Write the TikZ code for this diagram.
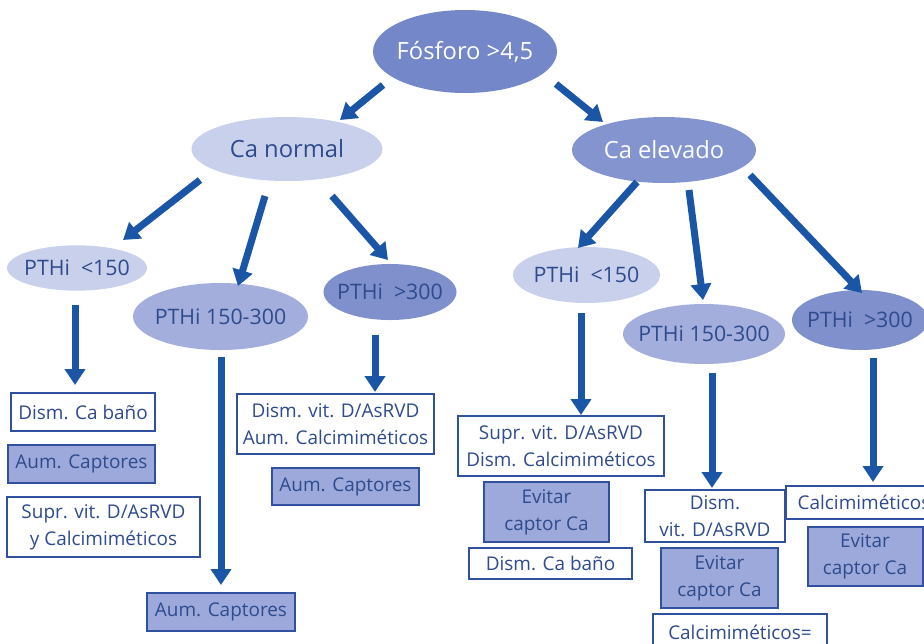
\documentclass[tikz,border=0pt]{standalone}
\usepackage{fontspec}
\setmainfont{Open Sans}
\usetikzlibrary{shapes.geometric,arrows.meta}
\definecolor{arrowblue}{HTML}{1B56A6}
\definecolor{ellF}{HTML}{7487C8}
\definecolor{ellLight}{HTML}{C9D0EB}
\definecolor{ellCe}{HTML}{8394CF}
\definecolor{ellMid}{HTML}{A3AEDC}
\definecolor{ellDark}{HTML}{7F90CC}
\definecolor{textblue}{HTML}{2E4B8E}
\definecolor{boxfill}{HTML}{9CA9DA}
\definecolor{boxline}{HTML}{2F51A0}
\tikzset{
  ell/.style={ellipse, inner xsep=-12pt, inner ysep=0pt, text=textblue},
  bigtxt/.style={font=\fontsize{17.8}{20}\selectfont},
  pthtxt/.style={font=\fontsize{16}{19}\selectfont},
  whitebox/.style={rectangle, draw=boxline, line width=1.5pt, fill=white, inner sep=0pt,
     text=textblue, align=center, font=\fontsize{14.2}{20}\selectfont},
  shadebox/.style={whitebox, fill=boxfill},
  arr/.style={draw=arrowblue, line width=5.25pt, -{Triangle[width=15pt,length=12pt]}}
}
\begin{document}
\begin{tikzpicture}[x=0.75pt,y=-0.75pt]
\useasboundingbox (0,0) rectangle (924,643);
\fill[white] (0,0) rectangle (924,643);
\clip (0,0) rectangle (924,643);
% ellipses
\node[ell, bigtxt, fill=ellF, text=white, minimum width=138pt, minimum height=62.25pt] (F) at (465,51.5) {Fósforo >4,5};
\node[ell, bigtxt, fill=ellLight, minimum width=143.25pt, minimum height=48pt] (Cn) at (287,149) {Ca normal};
\node[ell, bigtxt, fill=ellCe, text=white, minimum width=138pt, minimum height=49.5pt] (Ce) at (664,150) {Ca elevado};
\node[ell, pthtxt, fill=ellLight, minimum width=105pt, minimum height=34pt] (L1) at (77,268) {PTHi \ <150};
\node[ell, pthtxt, fill=ellMid, minimum width=131.25pt, minimum height=50.25pt] (L2) at (220.5,316.5) {PTHi 150-300};
\node[ell, pthtxt, fill=ellDark, minimum width=99.75pt, minimum height=42pt] (L3) at (390,292) {PTHi \ >300};
\node[ell, pthtxt, fill=ellLight, minimum width=110.25pt, minimum height=42pt] (R1) at (586.5,275) {PTHi \ <150};
\node[ell, pthtxt, fill=ellMid, minimum width=121.5pt, minimum height=45pt] (R2) at (704,334) {PTHi 150-300};
\node[ell, pthtxt, fill=ellDark, minimum width=102pt, minimum height=45pt] (R3) at (860,320) {PTHi \ >300};
% boxes left
\node[whitebox, minimum width=108pt, minimum height=28.5pt] (b1) at (83,412) {Dism. Ca baño};
\node[shadebox, minimum width=110.25pt, minimum height=28.5pt] (b2) at (81.5,464) {Aum. Captores};
\node[whitebox, minimum width=144.75pt, minimum height=45pt] (b3) at (103.5,527) {Supr. vit. D/AsRVD\\y Calcimiméticos};
\node[shadebox, minimum width=111pt, minimum height=28.5pt] (b4) at (221,612) {Aum. Captores};
\node[whitebox, minimum width=147.75pt, minimum height=45pt] (b5) at (335.5,424) {Dism. vit. D/AsRVD\\Aum. Calcimiméticos};
\node[shadebox, minimum width=110.25pt, minimum height=27.75pt] (b6) at (345.5,486.5) {Aum. Captores};
% boxes right
\node[whitebox, minimum width=154.5pt, minimum height=45pt] (b7) at (561,446) {Supr. vit. D/AsRVD\\Dism. Calcimiméticos};
\node[shadebox, minimum width=93.75pt, minimum height=45pt] (b8) at (546.5,512) {Evitar\\captor Ca};
\node[whitebox, minimum width=122.25pt, minimum height=23.25pt] (b9) at (550.5,563.5) {Dism. Ca baño};
\node[whitebox, minimum width=105pt, minimum height=39pt] (b10) at (715,516) {Dism.\\vit. D/AsRVD};
\node[shadebox, minimum width=87.75pt, minimum height=45pt] (b11) at (719.5,578) {Evitar\\captor Ca};
\node[whitebox, minimum width=130.5pt, minimum height=27pt] (b12) at (740,632) {Calcimiméticos=};
\node[whitebox, minimum width=117.75pt, minimum height=24.75pt] (b13) at (864,502) {Calcimiméticos};
\node[shadebox, minimum width=86.25pt, minimum height=44.25pt] (b14) at (865,556) {Evitar\\captor Ca};
% arrows
\draw[arr] ([shift={(-82,33.5)}]F.center) -- ([shift={(53,-29)}]Cn.center);
\draw[arr] ([shift={(91,32.5)}]F.center) -- ([shift={(-61,-28)}]Ce.center);
\draw[arr] ([shift={(-87,31)}]Cn.center) -- ([shift={(46,-28)}]L1.center);
\draw[arr] ([shift={(-22,47)}]Cn.center) -- ([shift={(17.5,-30.5)}]L2.center);
\draw[arr] ([shift={(45,47)}]Cn.center) -- ([shift={(-2,-32)}]L3.center);
\draw[arr] ([shift={(-27,32)}]Ce.center) -- ([shift={(-8.5,-27)}]R1.center);
\draw[arr] ([shift={(25,40)}]Ce.center) -- ([shift={(-1,-34)}]R2.center);
\draw[arr] ([shift={(86,25)}]Ce.center) -- ([shift={(2,-27)}]R3.center);
\draw[arr] ([shift={(-2,37)}]L1.center) -- ([shift={(-8,-27)}]b1.center);
\draw[arr] ([shift={(0.5,40.5)}]L2.center) -- ([shift={(0,-27)}]b4.center);
\draw[arr] ([shift={(-15,43)}]L3.center) -- ([shift={(39.5,-32)}]b5.center);
\draw[arr] ([shift={(-5.5,38)}]R1.center) -- ([shift={(20,-31)}]b7.center);
\draw[arr] ([shift={(8,39)}]R2.center) -- ([shift={(-3,-28)}]b10.center);
\draw[arr] ([shift={(13,38)}]R3.center) -- ([shift={(9,-20)}]b13.center);
\end{tikzpicture}
\end{document}
